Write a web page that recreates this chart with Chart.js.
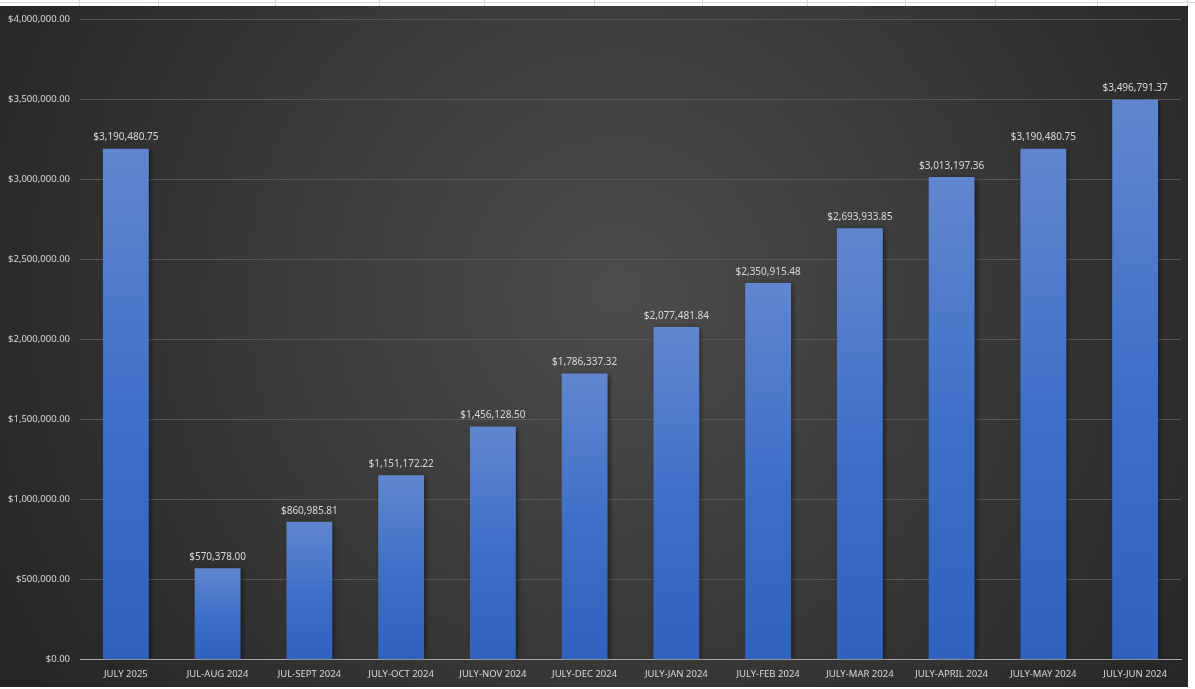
<!DOCTYPE html>
<html>
<head>
<meta charset="utf-8">
<script src="https://cdn.jsdelivr.net/npm/chart.js@4.4.1/dist/chart.umd.min.js"></script>
<style>
body{margin:0;background:#fff;width:1195px;height:689px;overflow:hidden;position:relative;}
#wrap{position:absolute;left:0;top:6px;width:1188px;height:681px;}
.hl{position:absolute;left:0;width:1195px;height:1px;background:#d9d9d9;}
.vl{position:absolute;top:0;width:1px;height:6px;background:#d9d9d9;}
</style>
</head>
<body>
<div class="hl" style="top:2px"></div>
<div class="vl" style="left:79px"></div>
<div class="vl" style="left:158px"></div>
<div class="vl" style="left:275px"></div>
<div class="vl" style="left:379px"></div>
<div class="vl" style="left:484px"></div>
<div class="vl" style="left:594px"></div>
<div class="vl" style="left:702px"></div>
<div class="vl" style="left:807px"></div>
<div class="vl" style="left:905px"></div>
<div class="vl" style="left:995px"></div>
<div class="vl" style="left:1097px"></div>
<div class="vl" style="left:1187px"></div>
<div id="wrap"><canvas id="salesChart" width="1188" height="681"></canvas></div>
<script>
const periods = ["JULY 2025","JUL-AUG 2024","JUL-SEPT 2024","JULY-OCT 2024","JULY-NOV 2024","JULY-DEC 2024","JULY-JAN 2024","JULY-FEB 2024","JULY-MAR 2024","JULY-APRIL 2024","JULY-MAY 2024","JULY-JUN 2024"];
const amounts = [3190480.75,570378.00,860985.81,1151172.22,1456128.50,1786337.32,2077481.84,2350915.48,2693933.85,3013197.36,3190480.75,3496791.37];
const yMax = 4000000;
const yStep = 500000;

const fmt = v => "$" + v.toLocaleString("en-US",{minimumFractionDigits:2,maximumFractionDigits:2});

// background of the chart, lighter in the middle
const bgPlugin = {
  id:"bg",
  beforeDraw(chart){
    const c = chart.ctx, w = chart.width, h = chart.height;
    const g = c.createRadialGradient(w*0.52,h*0.42,0,w*0.52,h*0.42,w*0.6);
    g.addColorStop(0,"#4c4c4c");
    g.addColorStop(1,"#252525");
    c.save();
    c.fillStyle = g;
    c.fillRect(0,0,w,h);
    c.restore();
  }
};

// soft shadow behind the bars
const shadowPlugin = {
  id:"shadow",
  beforeDatasetDraw(chart){
    const c = chart.ctx;
    c.save();
    c.shadowColor = "rgba(0,0,0,0.55)";
    c.shadowBlur = 5;
    c.shadowOffsetX = 2;
    c.shadowOffsetY = 1;
  },
  afterDatasetDraw(chart){
    chart.ctx.restore();
  }
};

// value labels above bars
const labelPlugin = {
  id:"valueLabels",
  afterDatasetsDraw(chart){
    const c = chart.ctx;
    const meta = chart.getDatasetMeta(0);
    c.save();
    c.font = "10px 'Noto Sans'";
    c.fillStyle = "#d9d9d9";
    c.textAlign = "center";
    c.textBaseline = "bottom";
    meta.data.forEach((bar,i)=>{
      c.fillText(fmt(amounts[i]), bar.x, bar.y - 6);
    });
    c.restore();
  }
};

new Chart(document.getElementById("salesChart"),{
  type:"bar",
  data:{
    labels:periods,
    datasets:[{
      data:amounts,
      backgroundColor(ctx){
        const chart = ctx.chart;
        if(!chart.chartArea || ctx.raw === undefined) return "#4472c4";
        const top = chart.scales.y.getPixelForValue(ctx.raw);
        const base = chart.scales.y.getPixelForValue(0);
        const g = chart.ctx.createLinearGradient(0,top,0,base);
        g.addColorStop(0,"#6186cf");
        g.addColorStop(0.5,"#3f70c8");
        g.addColorStop(1,"#2f62be");
        return g;
      },
      barPercentage:0.5,
      categoryPercentage:1
    }]
  },
  options:{
    responsive:false,
    animation:false,
    devicePixelRatio:1,
    layout:{padding:{top:13,right:7,bottom:-2,left:0}},
    plugins:{legend:{display:false},tooltip:{enabled:false}},
    scales:{
      x:{
        grid:{display:false,drawTicks:false},
        border:{color:"#a6a6a6"},
        ticks:{color:"#d9d9d9",font:{family:"'Noto Sans'",size:9.5},padding:9,maxRotation:0,autoSkip:false}
      },
      y:{
        min:0,max:yMax,
        grid:{color:"#575757",drawTicks:false},
        border:{display:false},
        afterFit(scale){scale.width = 80;},
        ticks:{stepSize:yStep,color:"#d9d9d9",font:{family:"'Noto Sans'",size:9.5,lineHeight:0.6},padding:10,callback:v=>fmt(v)}
      }
    }
  },
  plugins:[bgPlugin,shadowPlugin,labelPlugin]
});
</script>
</body>
</html>
